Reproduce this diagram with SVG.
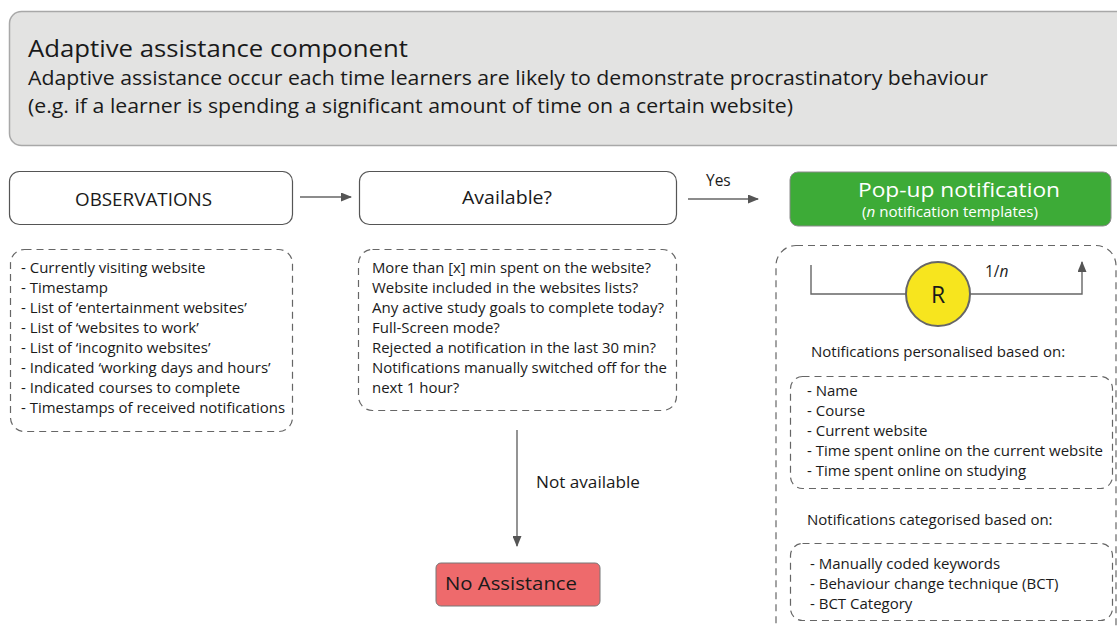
<svg xmlns="http://www.w3.org/2000/svg" width="1117" height="628" viewBox="0 0 1117 628">
  <defs>
    <marker id="ah" markerUnits="userSpaceOnUse" markerWidth="11" markerHeight="9" refX="10" refY="4.5" orient="auto">
      <path d="M0,0 L11,4.5 L0,9 Z" fill="#555"/>
    </marker>
    <style>
      text { font-family: "Open Sans", "Liberation Sans", sans-serif; fill: #1a1a1a; }
      .solid { fill: #fff; stroke: #555; stroke-width: 1.2; }
      .dash { fill: none; stroke: #666; stroke-width: 1.2; stroke-dasharray: 7 5; }
      .conn { fill: none; stroke: #666; stroke-width: 1.4; marker-end: url(#ah); }
      .list { font-size: 15px; }
      .head { font-size: 17.5px; }
    </style>
  </defs>

  <rect width="1117" height="628" fill="#fff"/>

  <!-- header panel -->
  <g id="header">
    <rect x="9.5" y="11.5" width="1130" height="134" rx="12" fill="#e3e3e2" stroke="#a8a8a8" stroke-width="1.5"/>
    <text x="28" y="57" font-size="24" textLength="380" lengthAdjust="spacingAndGlyphs">Adaptive assistance component</text>
    <text x="28" y="85" font-size="19.2" textLength="960" lengthAdjust="spacingAndGlyphs">Adaptive assistance occur each time learners are likely to demonstrate procrastinatory behaviour</text>
    <text x="28" y="113" font-size="19.2" textLength="765" lengthAdjust="spacingAndGlyphs">(e.g. if a learner is spending a significant amount of time on a certain website)</text>
  </g>

  <!-- observations -->
  <g id="observations">
    <rect class="solid" x="9.5" y="171.5" width="283" height="53" rx="10"/>
    <text x="75" y="206" class="head" textLength="137" lengthAdjust="spacingAndGlyphs">OBSERVATIONS</text>
  </g>
  <g id="observations-list">
    <rect class="dash" x="10.5" y="249.5" width="282" height="182" rx="14"/>
    <g class="list">
      <text x="21" y="273">- Currently visiting website</text>
      <text x="21" y="293">- Timestamp</text>
      <text x="21" y="313">- List of ‘entertainment websites’</text>
      <text x="21" y="333">- List of ‘websites to work’</text>
      <text x="21" y="353">- List of ‘incognito websites’</text>
      <text x="21" y="373">- Indicated ‘working days and hours’</text>
      <text x="21" y="393">- Indicated courses to complete</text>
      <text x="21" y="413" textLength="264" lengthAdjust="spacingAndGlyphs">- Timestamps of received notifications</text>
    </g>
  </g>

  <!-- availability check -->
  <g id="available">
    <rect class="solid" x="359.5" y="171.5" width="317" height="53" rx="10"/>
    <text x="462" y="204" class="head" textLength="90" lengthAdjust="spacingAndGlyphs">Available?</text>
  </g>
  <g id="available-list">
    <rect class="dash" x="358.5" y="249.5" width="318" height="161" rx="14"/>
    <g class="list">
      <text x="372" y="273" textLength="279" lengthAdjust="spacingAndGlyphs">More than [x] min spent on the website?</text>
      <text x="372" y="293">Website included in the websites lists?</text>
      <text x="372" y="313" textLength="292" lengthAdjust="spacingAndGlyphs">Any active study goals to complete today?</text>
      <text x="372" y="333">Full-Screen mode?</text>
      <text x="372" y="353" textLength="284" lengthAdjust="spacingAndGlyphs">Rejected a notification in the last 30 min?</text>
      <text x="372" y="373" textLength="295" lengthAdjust="spacingAndGlyphs">Notifications manually switched off for the</text>
      <text x="372" y="393">next 1 hour?</text>
    </g>
  </g>

  <!-- pop-up notification -->
  <g id="popup">
    <rect x="790" y="172" width="321" height="54" rx="8" fill="#3dab37" stroke="#8a8a8a" stroke-width="1"/>
    <text x="858" y="197" font-size="20.5" style="fill:#fff" textLength="202" lengthAdjust="spacingAndGlyphs">Pop-up notification</text>
    <text x="862" y="217" font-size="13.6" style="fill:#fff" textLength="176" lengthAdjust="spacingAndGlyphs">(<tspan font-style="italic">n</tspan> notification templates)</text>
  </g>
  <g id="popup-details">
    <rect class="dash" x="776" y="245.5" width="340" height="400" rx="20"/>
    <path d="M811,265 V294 H906" fill="none" stroke="#666" stroke-width="1.4"/>
    <path class="conn" d="M970,294 H1082 V262"/>
    <text x="985" y="277" font-size="15.5">1/<tspan font-style="italic">n</tspan></text>
    <g id="random">
      <circle cx="938" cy="294" r="32" fill="#f7e51e" stroke="#666" stroke-width="2"/>
      <text x="938" y="303" font-size="23" text-anchor="middle">R</text>
    </g>
    <text x="811" y="357" class="list">Notifications personalised based on:</text>
    <rect class="dash" x="790.5" y="376.5" width="322" height="112" rx="12"/>
    <g class="list">
      <text x="807" y="396">- Name</text>
      <text x="807" y="416">- Course</text>
      <text x="807" y="436">- Current website</text>
      <text x="807" y="456" textLength="296" lengthAdjust="spacingAndGlyphs">- Time spent online on the current website</text>
      <text x="807" y="476">- Time spent online on studying</text>
    </g>
    <text x="807" y="525" class="list">Notifications categorised based on:</text>
    <rect class="dash" x="790.5" y="543.5" width="322" height="77" rx="12"/>
    <g class="list">
      <text x="810" y="569">- Manually coded keywords</text>
      <text x="810" y="589">- Behaviour change technique (BCT)</text>
      <text x="810" y="609">- BCT Category</text>
    </g>
  </g>

  <!-- no assistance -->
  <g id="no-assistance">
    <rect x="436" y="563" width="164" height="43" rx="5" fill="#ee6a6c" stroke="#777" stroke-width="1"/>
    <text x="445" y="590" font-size="17.5" textLength="132" lengthAdjust="spacingAndGlyphs">No Assistance</text>
  </g>

  <!-- connectors -->
  <g id="connectors">
    <path class="conn" d="M300,197 H351"/>
    <path class="conn" d="M688,199 H758"/>
    <text x="706" y="186" font-size="15.5">Yes</text>
    <path class="conn" d="M517,430 V546"/>
    <text x="536" y="488" font-size="15.5" textLength="104" lengthAdjust="spacingAndGlyphs">Not available</text>
  </g>
</svg>
